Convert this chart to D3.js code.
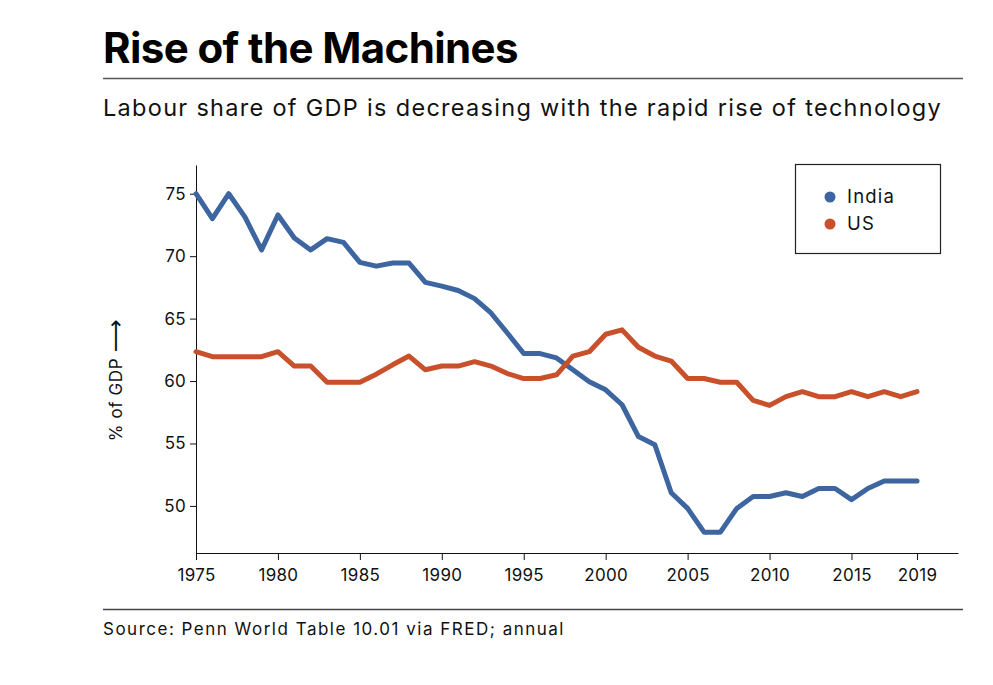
<!DOCTYPE html>
<html>
<head>
<meta charset="utf-8">
<script src="https://cdn.jsdelivr.net/npm/d3@7"></script>
<style>
  body { margin: 0; background: #fff; }
  svg { font-family: "Inter", "Noto Sans", sans-serif; }
</style>
</head>
<body>
<svg id="chart"></svg>
<script>
const years = d3.range(1975, 2020);
const india = [75.0, 73.0, 75.0, 73.1, 70.5, 73.3, 71.45, 70.5, 71.4, 71.1,
  69.5, 69.2, 69.45, 69.45, 67.9, 67.6, 67.25, 66.6, 65.45, 63.85,
  62.2, 62.2, 61.85, 60.9, 59.95, 59.3, 58.1, 55.55, 54.9, 51.05,
  49.8, 47.9, 47.9, 49.8, 50.75, 50.75, 51.05, 50.75, 51.4, 51.4,
  50.5, 51.4, 52.0, 52.0, 52.0];
const us = [62.35, 61.95, 61.95, 61.95, 61.95, 62.35, 61.2, 61.2, 59.9, 59.9,
  59.9, 60.55, 61.3, 62.0, 60.9, 61.2, 61.2, 61.55, 61.2, 60.6,
  60.2, 60.2, 60.5, 62.0, 62.35, 63.75, 64.1, 62.7, 62.0, 61.6,
  60.2, 60.2, 59.9, 59.9, 58.45, 58.05, 58.75, 59.15, 58.75, 58.75,
  59.15, 58.75, 59.15, 58.75, 59.15];
const seriesNames = ["India", "US"];
const seriesColors = ["#3d65a0", "#c8502a"];
const yTicks = [50, 55, 60, 65, 70, 75];
const xTicks = [1975, 1980, 1985, 1990, 1995, 2000, 2005, 2010, 2015, 2019];

const width = 993, height = 685;
const svg = d3.select("#chart").attr("width", width).attr("height", height);

// header
svg.append("text").attr("x", 103).attr("y", 63)
  .style("font-size", "42px").style("font-weight", 700).style("letter-spacing", "-0.6px")
  .attr("fill", "#000").text("Rise of the Machines");
svg.append("line").attr("x1", 103).attr("x2", 963).attr("y1", 78.5).attr("y2", 78.5)
  .attr("stroke", "#555").attr("stroke-width", 1.5);
svg.append("text").attr("x", 103).attr("y", 116)
  .style("font-size", "23.5px").style("letter-spacing", "1.3px").attr("fill", "#111")
  .text("Labour share of GDP is decreasing with the rapid rise of technology");

const x = d3.scaleLinear().domain([1975, 2021.5]).range([196, 958]);
const y = d3.scaleLinear().domain([46.23, 77.3]).range([553, 165]);

const xAxis = svg.append("g").attr("transform", "translate(0,553)")
  .call(d3.axisBottom(x).tickValues(xTicks).tickFormat(d3.format("d")).tickSize(7).tickSizeOuter(0));
const yAxis = svg.append("g").attr("transform", "translate(196,0)")
  .call(d3.axisLeft(y).tickValues(yTicks).tickSize(6).tickSizeOuter(0));
[xAxis, yAxis].forEach(g => {
  g.select(".domain").attr("stroke", "#111");
  g.selectAll(".tick line").attr("stroke", "#111");
  g.selectAll(".tick text").style("font-size", "17px").style("letter-spacing", "0.3px")
    .style("font-family", "Inter, sans-serif").attr("fill", "#111");
});
xAxis.selectAll(".tick text").attr("dy", "1.05em");
yAxis.selectAll(".tick text").attr("dx", "-1px");

const ylab = svg.append("text").attr("transform", "translate(122,380) rotate(-90)")
  .attr("text-anchor", "middle").style("font-size", "17px").style("letter-spacing", "0.6px").attr("fill", "#111");
ylab.append("tspan").text("% of GDP ");
ylab.append("tspan").style("font-family", "DejaVu Sans").style("font-size", "23px").attr("dy", "1px").text("\u27F6");

const line = d3.line().x((d, i) => x(years[i])).y(d => y(d));
[india, us].forEach((s, k) => {
  svg.append("path").datum(s).attr("d", line)
    .attr("fill", "none").attr("stroke", seriesColors[k])
    .attr("stroke-width", 5).attr("stroke-linejoin", "round").attr("stroke-linecap", "round");
});

// legend
const legend = svg.append("g");
legend.append("rect").attr("x", 795.5).attr("y", 164.5).attr("width", 145).attr("height", 89)
  .attr("fill", "#fff").attr("stroke", "#222").attr("stroke-width", 1.2);
seriesNames.forEach((n, k) => {
  legend.append("circle").attr("cx", 830).attr("cy", 197 + k * 27).attr("r", 5.5).attr("fill", seriesColors[k]);
  legend.append("text").attr("x", 847).attr("y", 197 + k * 27).attr("dy", "0.35em")
    .style("font-size", "18.5px").style("letter-spacing", "1.2px").attr("fill", "#111").text(n);
});

// footer
svg.append("line").attr("x1", 103).attr("x2", 963).attr("y1", 609.5).attr("y2", 609.5)
  .attr("stroke", "#444").attr("stroke-width", 1.5);
svg.append("text").attr("x", 103).attr("y", 635)
  .style("font-size", "17px").style("letter-spacing", "1.5px").attr("fill", "#111")
  .text("Source: Penn World Table 10.01 via FRED; annual");
</script>
</body>
</html>
